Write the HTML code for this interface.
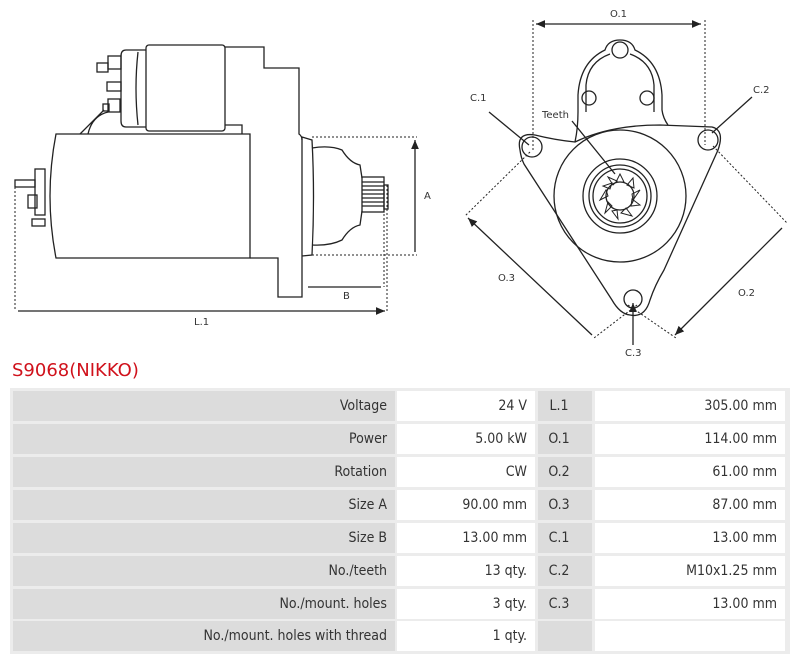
<!DOCTYPE html>
<html><head><meta charset="utf-8"><style>
body{margin:0;background:#fff;width:800px;height:660px;position:relative;overflow:hidden;font-family:"DejaVu Sans Condensed","DejaVu Sans","Liberation Sans",sans-serif}
.t{position:absolute;left:12px;top:360px;font-family:"DejaVu Sans",sans-serif;font-size:18px;color:#d0111b}
.c{position:absolute;height:30px;line-height:30px;font-size:14px;color:#333;text-align:right;padding-right:8px;box-sizing:border-box}
.g{background:#dcdcdc}.w{background:#fff}
.k{text-align:center;padding:0 12px 0 0}
</style></head><body>
<svg width="800" height="360" style="position:absolute;left:0;top:0" fill="none" stroke="#222" stroke-width="1.3" font-family="DejaVu Sans,sans-serif">
<defs><marker id="a" markerWidth="8" markerHeight="8" refX="7" refY="4" orient="auto-start-reverse"><path d="M0,1 L7,4 L0,7 z" fill="#222" stroke="none"/></marker></defs>
<rect x="146" y="45" width="79" height="86" rx="3"/>
<path d="M146,50 L126,50 Q121,50 121,56 L121,121 Q121,127 126,127 L146,127"/>
<path d="M138,52 Q134,88 138,125"/>
<path d="M225,47 L264,47 L264,68 L299,68 L299,134 Q302,136 302,140"/>
<path d="M225,125 L242,125 L242,134"/>
<path d="M56,134 L250,134 L250,258 L56,258 Q44,196 56,134 Z"/>
<path d="M250,258 L278,258 L278,297 L302,297 L302,137 L312,140 Q315,196 312,255 L302,256"/>
<path d="M312,148 Q330,145 342,150 Q350,163 360,165 L362,178 M362,211 L360,225 Q350,227 342,240 Q330,246 312,245"/>
<rect x="362" y="177" width="22" height="35"/>
<path d="M362,182 H384 M362,186 H384 M362,190 H384 M362,194 H384 M362,198 H384 M362,202 H384 M362,206 H384"/>
<rect x="384" y="185" width="4" height="24"/>
<rect x="35" y="169" width="10" height="46"/>
<rect x="28" y="195" width="9" height="13"/>
<rect x="15" y="180" width="20" height="7"/>
<rect x="32" y="219" width="13" height="7"/>
<rect x="108" y="56" width="13" height="13"/><rect x="97" y="63" width="11" height="9"/>
<rect x="107" y="82" width="14" height="9"/>
<rect x="108" y="99" width="12" height="13"/><rect x="103" y="104" width="6" height="7"/>
<path d="M80,134 L104,110 M88,134 Q92,116 108,112"/>
<g stroke-dasharray="2,2" stroke-width="1">
<path d="M312,137 H417 M312,255 H417 M15,183 V311 M387,185 V311 M384,186 V287"/>
</g>
<path d="M415,140 V252 M308,287 H381 M18,311 H385" marker-start="url(#a)" marker-end="url(#a)"/>
<g fill="#333" stroke="none" font-size="10"><text x="424" y="199">A</text><text x="343" y="299">B</text><text x="194" y="325">L.1</text></g>
<g stroke-dasharray="2,2" stroke-width="1">
<path d="M533,20 V150 M705,20 V145 M530,152 L465,216 M637,305 L594,338 M713,146 L787,223 M628,305 L676,338"/>
</g>
<path d="M536,24 H701" marker-start="url(#a)" marker-end="url(#a)"/>
<path d="M468,218 L592,335 M782,228 L675,335" marker-start="url(#a)" marker-end="url(#a)"/>
<path d="M520,150 Q516,132 535,135 Q555,140 575,142 Q610,125 660,125 L712,127 Q725,130 718,150 L664,270 Q655,285 650,300 Q645,318 630,315 Q620,314 612,300 L524,164 Q521,158 520,150 Z"/>
<path d="M575,142 Q578,128 578,112 L578,95 Q580,62 605,50 Q608,40 620,40 Q632,40 635,50 Q660,62 662,95 L662,110 Q663,118 668,125"/>
<path d="M586,112 L586,85 Q588,62 610,54 M654,112 L654,85 Q652,62 630,54"/>
<circle cx="620" cy="50" r="8"/><circle cx="589" cy="98" r="7"/><circle cx="647" cy="98" r="7"/>
<circle cx="532" cy="147" r="10"/><circle cx="708" cy="140" r="10"/><circle cx="633" cy="299" r="9"/>
<circle cx="620" cy="196" r="66"/><circle cx="620" cy="196" r="37"/><circle cx="620" cy="196" r="31"/><circle cx="620" cy="196" r="27"/><circle cx="620" cy="196" r="14"/>
<g stroke-width="1">
<path d="M620,174 L616,182 H624 Z M633,178 L627,185 L634,188 Z M640,190 L632,194 L633,200 Z M640,205 L632,199 L631,206 Z M632,216 L626,208 L621,213 Z M618,219 L617,210 L612,211 Z M605,213 L612,206 L608,202 Z M600,200 L608,196 L606,190 Z M603,186 L610,189 L612,183 Z M608,177 L613,185 L617,181 Z"/>
</g>
<path d="M489,112 L529,145 M752,97 L712,133 M572,121 L615,174 M633,345 L633,303" marker-end="url(#a)"/>
<g fill="#333" stroke="none" font-size="10"><text x="610" y="17">O.1</text><text x="470" y="101">C.1</text><text x="753" y="93">C.2</text><text x="542" y="118">Teeth</text><text x="498" y="281">O.3</text><text x="738" y="296">O.2</text><text x="625" y="356">C.3</text></g>
</svg>
<div class="t">S9068(NIKKO)</div>
<div style="position:absolute;left:10px;top:388px;width:780px;height:266px;background:#ececec"></div>
<div class="c g" style="left:13px;top:391px;width:382px">Voltage</div><div class="c w" style="left:397px;top:391px;width:138px">24 V</div><div class="c g k" style="left:538px;top:391px;width:54px">L.1</div><div class="c w" style="left:595px;top:391px;width:190px">305.00 mm</div>
<div class="c g" style="left:13px;top:424px;width:382px">Power</div><div class="c w" style="left:397px;top:424px;width:138px">5.00 kW</div><div class="c g k" style="left:538px;top:424px;width:54px">O.1</div><div class="c w" style="left:595px;top:424px;width:190px">114.00 mm</div>
<div class="c g" style="left:13px;top:457px;width:382px">Rotation</div><div class="c w" style="left:397px;top:457px;width:138px">CW</div><div class="c g k" style="left:538px;top:457px;width:54px">O.2</div><div class="c w" style="left:595px;top:457px;width:190px">61.00 mm</div>
<div class="c g" style="left:13px;top:490px;width:382px">Size A</div><div class="c w" style="left:397px;top:490px;width:138px">90.00 mm</div><div class="c g k" style="left:538px;top:490px;width:54px">O.3</div><div class="c w" style="left:595px;top:490px;width:190px">87.00 mm</div>
<div class="c g" style="left:13px;top:523px;width:382px">Size B</div><div class="c w" style="left:397px;top:523px;width:138px">13.00 mm</div><div class="c g k" style="left:538px;top:523px;width:54px">C.1</div><div class="c w" style="left:595px;top:523px;width:190px">13.00 mm</div>
<div class="c g" style="left:13px;top:556px;width:382px">No./teeth</div><div class="c w" style="left:397px;top:556px;width:138px">13 qty.</div><div class="c g k" style="left:538px;top:556px;width:54px">C.2</div><div class="c w" style="left:595px;top:556px;width:190px">M10x1.25 mm</div>
<div class="c g" style="left:13px;top:589px;width:382px">No./mount. holes</div><div class="c w" style="left:397px;top:589px;width:138px">3 qty.</div><div class="c g k" style="left:538px;top:589px;width:54px">C.3</div><div class="c w" style="left:595px;top:589px;width:190px">13.00 mm</div>
<div class="c g" style="left:13px;top:621px;width:382px">No./mount. holes with thread</div><div class="c w" style="left:397px;top:621px;width:138px">1 qty.</div><div class="c g k" style="left:538px;top:621px;width:54px"></div><div class="c w" style="left:595px;top:621px;width:190px"></div>
</body></html>
